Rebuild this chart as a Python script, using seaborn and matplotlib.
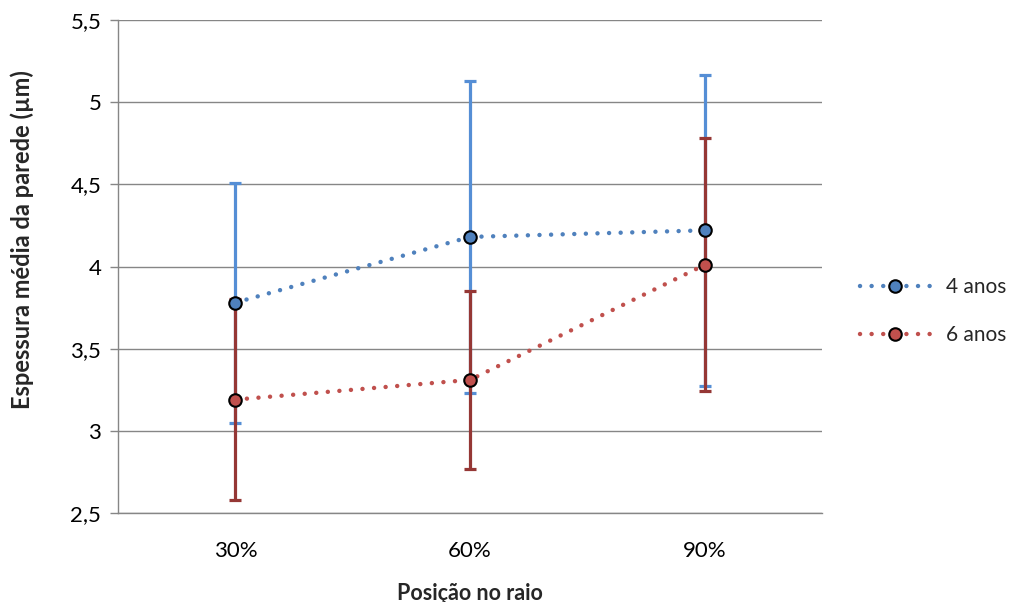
import matplotlib
matplotlib.use("Agg")
import matplotlib.pyplot as plt
import seaborn as sns
import pandas as pd
import numpy as np
from matplotlib.lines import Line2D

categories = ["30%", "60%", "90%"]
series_names = ["4 anos", "6 anos"]
values_4 = [3.78, 4.18, 4.22]
errors_4 = [0.73, 0.947, 0.945]
values_6 = [3.19, 3.31, 4.01]
errors_6 = [0.61, 0.54, 0.77]
yticks = [2.5, 3, 3.5, 4, 4.5, 5, 5.5]
ytick_labels = ["2,5", "3", "3,5", "4", "4,5", "5", "5,5"]

line_colors = ["#4F81BD", "#C0504D"]
err_colors = ["#558ED5", "#953735"]

sns.set_theme(style="white")
plt.rcParams["font.family"] = ["Lato", "DejaVu Sans"]

df = pd.DataFrame({
    "pos": list(range(len(categories))) * 2,
    "value": values_4 + values_6,
    "err": errors_4 + errors_6,
    "serie": [series_names[0]] * 3 + [series_names[1]] * 3,
})

fig = plt.figure(figsize=(10.19, 6.02), dpi=100)
ax = fig.add_axes([118 / 1019, 1 - 513 / 602, (822 - 118) / 1019, (513 - 20) / 602])

LW = 3.2
dotted = (0, (0.01, 2.6))
sns.lineplot(data=df, x="pos", y="value", hue="serie", palette=line_colors,
             ax=ax, legend=False, linewidth=LW, zorder=2)
for ln in ax.get_lines():
    ln.set_linestyle(dotted)
    ln.set_dash_capstyle("round")

for i, name in enumerate(series_names):
    sub = df[df["serie"] == name]
    ax.errorbar(sub["pos"], sub["value"], yerr=sub["err"], fmt="none",
                ecolor=err_colors[i], elinewidth=2.3, capsize=4.5, capthick=2.3,
                zorder=3 + i)
for i, name in enumerate(series_names):
    sub = df[df["serie"] == name]
    ax.plot(sub["pos"], sub["value"], linestyle="none", marker="o", markersize=9,
            markerfacecolor=line_colors[i], markeredgecolor="black",
            markeredgewidth=1.5, zorder=6)

ax.set_xlim(-0.5, 2.5)
ax.set_ylim(2.5, 5.5)
ax.set_yticks(yticks)
ax.set_yticklabels(ytick_labels, fontsize=16, color="#000000")
ax.set_xticks(range(len(categories)))
ax.set_xticklabels(categories, fontsize=16, color="#000000")
ax.set_xticks([-0.5, 0.5, 1.5, 2.5], minor=True)
ax.tick_params(axis="x", which="major", length=0, pad=20)
ax.tick_params(axis="x", which="minor", length=6, width=1, color="#868686", direction="out")
ax.tick_params(axis="y", which="major", length=6, width=1, color="#868686", direction="out", left=True, pad=6)

ax.grid(axis="y", color="#868686", linewidth=1)
ax.grid(axis="x", visible=False)
ax.set_axisbelow(True)
for s in ["top", "right"]:
    ax.spines[s].set_visible(False)
for s in ["left", "bottom"]:
    ax.spines[s].set_color("#868686")
    ax.spines[s].set_linewidth(1)

ax.set_xlabel("Posição no raio", fontsize=15.5, fontweight="bold", labelpad=16)
ax.set_ylabel("Espessura média da parede (µm)", fontsize=17, fontweight="bold",
              va="center")
ax.yaxis.set_label_coords((22 - 118) / 704, (513 - 240) / 493)

handles = [Line2D([0], [0], color=line_colors[i], linestyle=dotted, linewidth=LW,
                  dash_capstyle="round", marker="o", markersize=9,
                  markerfacecolor=line_colors[i], markeredgecolor="black", markeredgewidth=1.5)
           for i in range(2)]
fig.legend(handles, series_names, loc="center left", bbox_to_anchor=(860 / 1019, 1 - 311 / 602),
           frameon=False, fontsize=15, handlelength=3.4, labelspacing=1.35, handletextpad=0.75,
           borderaxespad=0, borderpad=0)

fig.savefig("out.png", dpi=100)
